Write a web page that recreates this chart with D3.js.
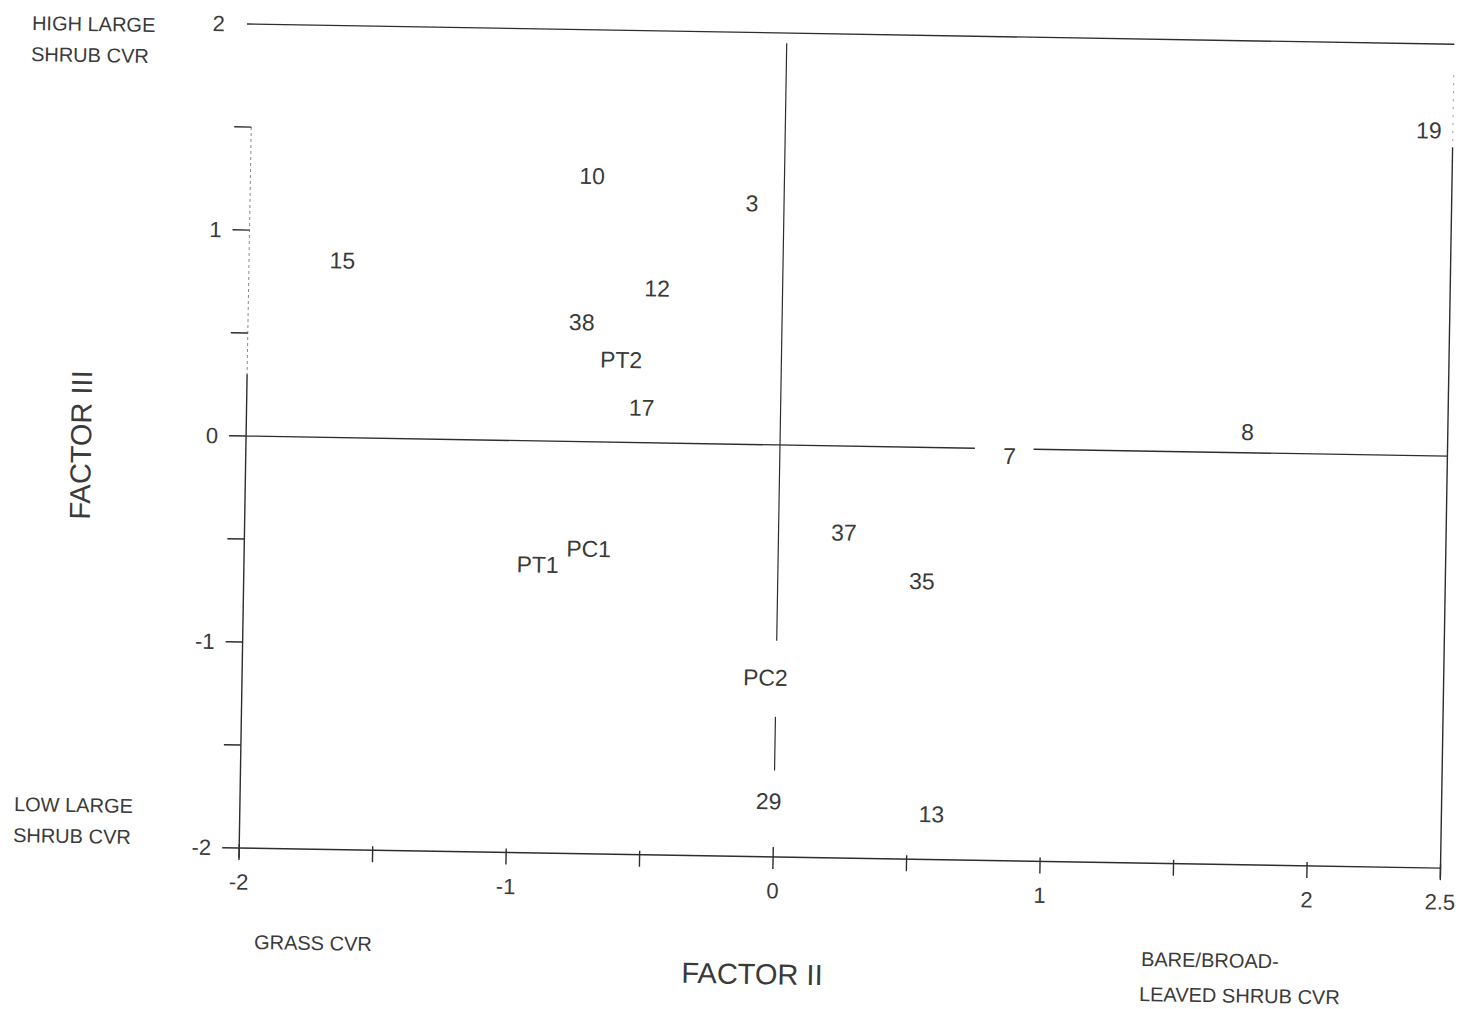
<!DOCTYPE html>
<html lang="en">
<head>
  <meta charset="utf-8">
  <title>Factor II vs Factor III</title>
  <script src="https://d3js.org/d3.v7.min.js"></script>
  <style>
    body { margin: 0; background: #fff; }
    text { font-family: "Liberation Sans", Arial, sans-serif; fill: #3a3a3a; }
  </style>
</head>
<body>
  <div id="chart"></div>
  <script>
    // chart values
    var siteLabels = ["19", "10", "3", "15", "12", "38", "PT2", "17", "7", "8",
                      "37", "35", "PC1", "PT1", "PC2", "29", "13"];
    var factorII  = [2.41, -0.72, -0.12, -1.65, -0.47, -0.75, -0.60, -0.52, 0.86, 1.75,
                     0.245, 0.54, -0.71, -0.90, -0.04, -0.02, 0.59];
    var factorIII = [1.58, 1.29, 1.17, 0.86, 0.75, 0.58, 0.40, 0.17, -0.035, 0.10,
                     -0.42, -0.65, -0.52, -0.60, -1.13, -1.73, -1.78];

    var xTicks = [-2, -1.5, -1, -0.5, 0, 0.5, 1, 1.5, 2, 2.5];
    var xTickLabels = [-2, -1, 0, 1, 2, 2.5];
    var yTicks = [-2, -1.5, -1, -0.5, 0, 0.5, 1, 1.5];
    var yTickLabels = [-2, -1, 0, 1, 2];

    // pieces of the zero lines (the scan leaves gaps around some labels)
    var hZeroSegments = [[-2, 0.73], [0.95, 2.5]];
    var vZeroSegments = [[1.95, -0.95], [-1.32, -1.58]];

    var w = 1463, h = 1009;
    var tilt = 0.96; // the scanned page is turned a little

    var x = d3.scaleLinear().domain([-2, 2.5]).range([246, 1447.5]);
    var y = d3.scaleLinear().domain([-2, 2]).range([857, 33]);

    var svg = d3.select("#chart").append("svg")
      .attr("width", w)
      .attr("height", h);

    var g = svg.append("g")
      .attr("transform", "rotate(" + tilt + "," + x(0) + "," + y(0) + ")");

    var ink = "#2e2e2e";

    // top frame line
    g.append("line")
      .attr("x1", x(-2) - 6).attr("x2", x(2.5))
      .attr("y1", y(2)).attr("y2", y(2))
      .attr("stroke", ink).attr("stroke-width", 1.4);

    // right frame: faint at the top, solid below
    g.append("line")
      .attr("x1", x(2.5)).attr("x2", x(2.5))
      .attr("y1", y(1.85)).attr("y2", y(1.5))
      .attr("stroke", "#999").attr("stroke-width", 1)
      .attr("stroke-dasharray", "2,6");
    g.append("line")
      .attr("x1", x(2.5)).attr("x2", x(2.5))
      .attr("y1", y(1.5)).attr("y2", y(-2) + 10)
      .attr("stroke", ink).attr("stroke-width", 1.4);

    // left axis
    g.append("line")
      .attr("x1", x(-2)).attr("x2", x(-2))
      .attr("y1", y(1.5)).attr("y2", y(0.3))
      .attr("stroke", "#8a8a8a").attr("stroke-width", 1)
      .attr("stroke-dasharray", "3,3");
    g.append("line")
      .attr("x1", x(-2)).attr("x2", x(-2))
      .attr("y1", y(0.3)).attr("y2", y(-2) + 10)
      .attr("stroke", ink).attr("stroke-width", 1.4);

    g.selectAll(".ytick").data(yTicks).enter().append("line")
      .attr("class", "ytick")
      .attr("x1", x(-2) - 17).attr("x2", x(-2))
      .attr("y1", function (d) { return y(d); })
      .attr("y2", function (d) { return y(d); })
      .attr("stroke", ink).attr("stroke-width", 1.4);

    g.selectAll(".ylab").data(yTickLabels).enter().append("text")
      .attr("class", "ylab")
      .attr("x", x(-2) - 28)
      .attr("y", function (d) { return y(d); })
      .attr("text-anchor", "end")
      .attr("dominant-baseline", "central")
      .style("font-size", "22px")
      .text(function (d) { return d; });

    // bottom axis
    g.append("line")
      .attr("x1", x(-2)).attr("x2", x(2.5))
      .attr("y1", y(-2)).attr("y2", y(-2))
      .attr("stroke", ink).attr("stroke-width", 1.4);

    g.selectAll(".xtick").data(xTicks).enter().append("line")
      .attr("class", "xtick")
      .attr("x1", function (d) { return x(d); })
      .attr("x2", function (d) { return x(d); })
      .attr("y1", function (d) { return d === 0 ? y(-2) - 10 : y(-2) - 4; })
      .attr("y2", y(-2) + 12)
      .attr("stroke", ink).attr("stroke-width", 1.4);

    g.selectAll(".xlab").data(xTickLabels).enter().append("text")
      .attr("class", "xlab")
      .attr("x", function (d) { return x(d); })
      .attr("y", y(-2) + 34)
      .attr("text-anchor", "middle")
      .attr("dominant-baseline", "central")
      .style("font-size", "22px")
      .text(function (d) { return d; });

    // zero lines
    g.selectAll(".hzero").data(hZeroSegments).enter().append("line")
      .attr("class", "hzero")
      .attr("x1", function (d) { return x(d[0]); })
      .attr("x2", function (d) { return x(d[1]); })
      .attr("y1", y(0)).attr("y2", y(0))
      .attr("stroke", ink).attr("stroke-width", 1.3);

    g.selectAll(".vzero").data(vZeroSegments).enter().append("line")
      .attr("class", "vzero")
      .attr("x1", x(0)).attr("x2", x(0))
      .attr("y1", function (d) { return y(d[0]); })
      .attr("y2", function (d) { return y(d[1]); })
      .attr("stroke", ink).attr("stroke-width", 1.2);

    // site labels
    g.selectAll(".site").data(siteLabels).enter().append("text")
      .attr("class", "site")
      .attr("x", function (d, i) { return x(factorII[i]); })
      .attr("y", function (d, i) { return y(factorIII[i]); })
      .attr("text-anchor", "middle")
      .attr("dominant-baseline", "central")
      .style("font-size", "23px")
      .text(function (d) { return d; });

    // titles and end notes
    function note(tx, ty, str, size, anchor, angle) {
      svg.append("text")
        .attr("transform", "translate(" + tx + "," + ty + ") rotate(" + (angle || tilt) + ")")
        .attr("text-anchor", anchor || "start")
        .attr("dominant-baseline", "central")
        .style("font-size", size + "px")
        .text(str);
    }

    note(32, 23, "HIGH LARGE", 20);
    note(31, 54, "SHRUB CVR", 20);
    note(14, 804, "LOW LARGE", 20);
    note(13, 835, "SHRUB CVR", 20);
    note(254, 942, "GRASS CVR", 20);
    note(1141, 959, "BARE/BROAD-", 20);
    note(1139, 994, "LEAVED SHRUB CVR", 20);
    note(752, 974, "FACTOR II", 29, "middle");
    note(81, 445, "FACTOR III", 29, "middle", -90 + tilt);
  </script>
</body>
</html>
